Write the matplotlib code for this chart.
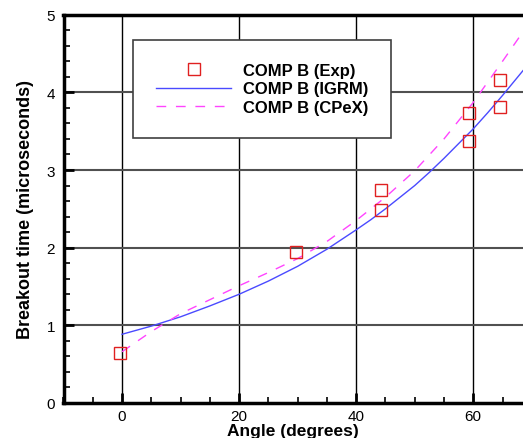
import matplotlib
matplotlib.use("Agg")
import matplotlib.pyplot as plt
from matplotlib.ticker import MultipleLocator

plt.rcParams['font.family'] = ['Liberation Sans', 'DejaVu Sans']

# experimental points
exp_angle = [-0.3, 29.7, 44.3, 44.3, 59.3, 59.3, 64.6, 64.6]
exp_time = [0.65, 1.94, 2.74, 2.49, 3.74, 3.37, 4.16, 3.81]

# IGRM model curve
igrm_angle = [0, 5, 10, 15, 20, 25, 30, 35, 40, 42.5, 45, 47.5, 50, 52.5, 55, 57.5, 60, 62.5, 65, 68.5]
igrm_time = [0.885, 0.99, 1.11, 1.25, 1.40, 1.57, 1.76, 1.98, 2.23, 2.36, 2.50, 2.65, 2.80, 2.97, 3.15, 3.34, 3.53, 3.74, 3.96, 4.28]

# CPeX model curve
cpex_angle = [0, 5, 10, 15, 20, 25, 30, 35, 40, 45, 50, 55, 60, 65, 68.5]
cpex_time = [0.66, 0.92, 1.15, 1.33, 1.51, 1.68, 1.86, 2.08, 2.35, 2.65, 2.99, 3.40, 3.87, 4.40, 4.78]

fig = plt.figure(figsize=(5.23, 4.39), dpi=100)
ax = fig.add_axes([63.5/523, 1-404/439, 1-63.5/523, (404-15.7)/439])

ax.set_xlim(-10, 68.5)
ax.set_ylim(0, 5)

# grid only at majors
for x in [0, 20, 40, 60]:
    ax.axvline(x, color='black', lw=1.0, zorder=0)
for y in [1, 2, 3, 4]:
    ax.axhline(y, color='#505050', lw=1.5, zorder=0)

ax.plot(igrm_angle, igrm_time, color='#4a4aff', lw=1.0, label='COMP B (IGRM)', zorder=2)
ax.plot(cpex_angle, cpex_time, color='#ff44ff', lw=1.0, ls=(0, (7, 7)), label='COMP B (CPeX)', zorder=2)
ax.plot(exp_angle, exp_time, ls='none', marker='s', ms=8.6, mfc='none', mec='#e02020', mew=1.0,
        label='COMP B (Exp)', zorder=3)

ax.xaxis.set_major_locator(MultipleLocator(20))
ax.xaxis.set_minor_locator(MultipleLocator(5))
ax.yaxis.set_major_locator(MultipleLocator(1))
ax.yaxis.set_minor_locator(MultipleLocator(0.2))
ax.tick_params(which='major', direction='in', length=7.5, width=2, labelsize=11, pad=6)
ax.tick_params(axis='x', which='major', pad=4)
ax.tick_params(which='minor', direction='in', length=4, width=1.2)

for s in ['left', 'bottom', 'top']:
    ax.spines[s].set_linewidth(2.5)
ax.spines['right'].set_visible(False)

ax.set_xlabel('Angle (degrees)', fontsize=12.5, fontweight='bold', labelpad=0)
ax.set_ylabel('Breakout time (microseconds)', fontsize=13, fontweight='bold', labelpad=9)

handles, labels = ax.get_legend_handles_labels()
order = [2, 0, 1]
leg = ax.legend([handles[i] for i in order], [labels[i] for i in order],
                loc='upper left', bbox_to_anchor=((132.7-63.5)/459.5, (404-40.7)/388.3),
                frameon=True, fancybox=False, edgecolor='#404040', framealpha=1,
                prop={'weight': 'bold', 'size': 12}, handlelength=4.5,
                borderpad=1.4, labelspacing=0.2, handletextpad=0.7, borderaxespad=0)
leg.get_frame().set_linewidth(1.2)

fig.savefig('out.png', dpi=100)
